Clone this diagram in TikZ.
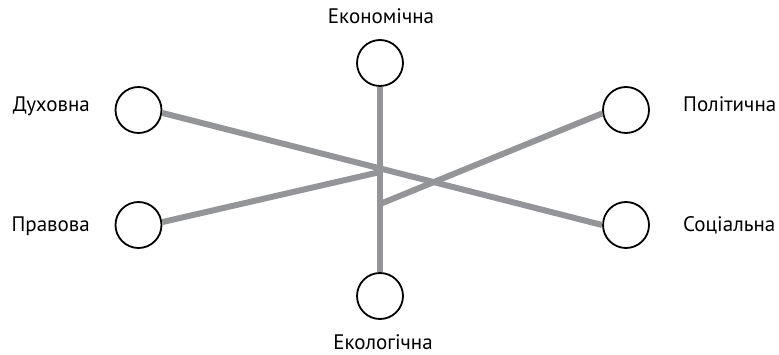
\documentclass[tikz,border=0pt]{standalone}
\usepackage{fontspec}
\setmainfont{PT Sans}
\definecolor{linkgray}{RGB}{147,149,152}
\begin{document}
\begin{tikzpicture}[x=1pt,y=-1pt,
  ring/.style={circle,draw=black,line width=1.8pt,minimum size=46pt,inner sep=0pt},
  link/.style={draw=linkgray,line width=6pt},
  lbl/.style={font=\fontsize{21}{21}\selectfont,inner sep=0pt}]
\useasboundingbox (0,0) rectangle (779,355);
\node[ring] (E) at (380,63) {};
\node[ring] (D) at (138.5,110) {};
\node[ring] (P) at (138.5,225) {};
\node[ring] (Po) at (626,110) {};
\node[ring] (S) at (626,225) {};
\node[ring] (K) at (380,296) {};
\coordinate (j1) at (380,172);
\coordinate (j2) at (380,204);
\draw[link] (E.south) -- (K.north);
\draw[link] (D.-7) -- (S.180);
\draw[link] (P.7) -- (j1);
\draw[link] (j2) -- (Po.188);
\node[lbl,anchor=base] (tE) at (381,24) {Економічна};
\node[lbl,anchor=base east] (tD) at (90,112) {Духовна};
\node[lbl,anchor=base east] (tP) at (90,232) {Правова};
\node[lbl,anchor=base west] (tPo) at (683,112) {Політична};
\node[lbl,anchor=base west] (tS) at (683,232) {Соціальна};
\node[lbl,anchor=base] (tK) at (383,349) {Екологічна};
\end{tikzpicture}
\end{document}
